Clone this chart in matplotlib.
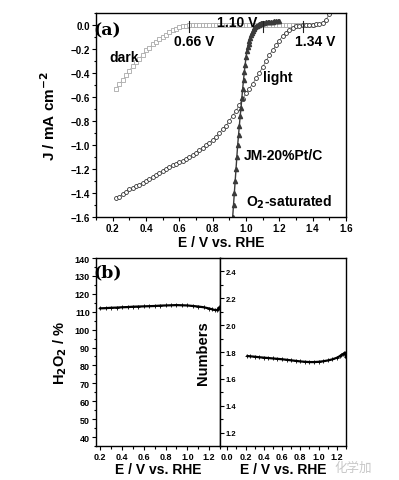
import numpy as np
import matplotlib.pyplot as plt
from matplotlib.ticker import MultipleLocator

plt.rcParams['font.family'] = ['Liberation Sans', 'DejaVu Sans']
plt.rcParams['font.weight'] = 'bold'
plt.rcParams['axes.labelweight'] = 'bold'
plt.rcParams['mathtext.default'] = 'bf'

# ---- (a) LSV curves ----
E_dark = [0.22, 0.24, 0.26, 0.28, 0.30, 0.32, 0.34, 0.36, 0.38, 0.40, 0.42, 0.44,
          0.46, 0.48, 0.50, 0.52, 0.54, 0.56, 0.58, 0.60, 0.62, 0.64, 0.66, 0.68,
          0.70, 0.72, 0.74, 0.76, 0.78, 0.80, 0.82, 0.84, 0.86, 0.88, 0.90, 0.92,
          0.94, 0.96, 0.98, 1.00, 1.02, 1.04, 1.06, 1.08, 1.10, 1.12, 1.14, 1.16,
          1.18, 1.20, 1.22, 1.24, 1.26, 1.28, 1.30, 1.32, 1.34, 1.36, 1.38, 1.40]
J_dark = [-0.53, -0.49, -0.46, -0.42, -0.38, -0.34, -0.31, -0.28, -0.25, -0.21,
          -0.19, -0.16, -0.14, -0.12, -0.10, -0.08, -0.06, -0.045, -0.03, -0.02,
          -0.01, -0.005, 0.0, 0.0, 0.0, 0.0, 0.0, 0.0, 0.0, 0.0, 0.0, 0.0, 0.0,
          0.0, 0.0, 0.0, 0.0, 0.0, 0.0, 0.0, 0.0, 0.0, 0.0, 0.0, 0.0, 0.0, 0.0,
          0.0, 0.0, 0.0, 0.0, 0.0, 0.0, 0.0, 0.0, 0.0, 0.0, 0.0, 0.0, 0.0]

E_light = [0.22, 0.24, 0.26, 0.28, 0.30, 0.32, 0.34, 0.36, 0.38, 0.40, 0.42, 0.44,
           0.46, 0.48, 0.50, 0.52, 0.54, 0.56, 0.58, 0.60, 0.62, 0.64, 0.66, 0.68,
           0.70, 0.72, 0.74, 0.76, 0.78, 0.80, 0.82, 0.84, 0.86, 0.88, 0.90, 0.92,
           0.94, 0.96, 0.98, 1.00, 1.02, 1.04, 1.06, 1.08, 1.10, 1.12, 1.14, 1.16,
           1.18, 1.20, 1.22, 1.24, 1.26, 1.28, 1.30, 1.32, 1.34, 1.36, 1.38, 1.40,
           1.42, 1.44, 1.46, 1.48, 1.50]
J_light = [-1.445, -1.43, -1.41, -1.39, -1.37, -1.36, -1.345, -1.33, -1.315, -1.30,
           -1.285, -1.27, -1.25, -1.235, -1.215, -1.20, -1.185, -1.17, -1.16, -1.145,
           -1.13, -1.115, -1.10, -1.085, -1.065, -1.045, -1.025, -1.00, -0.98, -0.955,
           -0.93, -0.90, -0.87, -0.84, -0.80, -0.755, -0.715, -0.665, -0.615, -0.57,
           -0.53, -0.49, -0.445, -0.40, -0.35, -0.30, -0.25, -0.21, -0.17, -0.13,
           -0.09, -0.065, -0.045, -0.025, -0.012, -0.005, 0.0, 0.0, 0.0, 0.0,
           0.005, 0.01, 0.02, 0.045, 0.09]

E_pt = [0.92, 0.925, 0.93, 0.935, 0.94, 0.945, 0.95, 0.955, 0.96, 0.965, 0.97,
        0.975, 0.98, 0.985, 0.99, 0.995, 1.00, 1.005, 1.01, 1.015, 1.02, 1.025,
        1.03, 1.035, 1.04, 1.045, 1.05, 1.055, 1.06, 1.065, 1.07, 1.075, 1.08,
        1.085, 1.09, 1.095, 1.10, 1.11, 1.12, 1.13, 1.14, 1.15, 1.16, 1.17, 1.18,
        1.19, 1.20]
J_pt = [-1.60, -1.50, -1.40, -1.30, -1.20, -1.10, -1.00, -0.92, -0.84, -0.76,
        -0.69, -0.61, -0.53, -0.46, -0.39, -0.33, -0.27, -0.22, -0.185, -0.155,
        -0.13, -0.105, -0.085, -0.065, -0.05, -0.035, -0.025, -0.017, -0.01,
        -0.005, 0.0, 0.004, 0.008, 0.011, 0.013, 0.015, 0.017, 0.02, 0.022, 0.024,
        0.026, 0.028, 0.029, 0.031, 0.032, 0.034, 0.035]

onset_E = [0.66, 1.10, 1.34]
onset_labels = ['0.66 V', '1.10 V', '1.34 V']

# ---- (b) RRDE results ----
E_h2o2 = [0.20, 0.25, 0.30, 0.35, 0.40, 0.45, 0.50, 0.55, 0.60, 0.65, 0.70, 0.75,
          0.80, 0.85, 0.90, 0.95, 1.00, 1.05, 1.10, 1.15, 1.20, 1.23, 1.25, 1.27,
          1.28, 1.29, 1.30]
h2o2 = [111.9, 112.0, 112.2, 112.3, 112.5, 112.6, 112.8, 112.9, 113.0, 113.1,
        113.2, 113.4, 113.5, 113.6, 113.7, 113.6, 113.5, 113.2, 112.9, 112.5,
        111.8, 111.3, 111.0, 110.9, 111.3, 112.4, 111.5]

E_n = [0.22, 0.25, 0.30, 0.35, 0.40, 0.45, 0.50, 0.55, 0.60, 0.65, 0.70, 0.75,
       0.80, 0.85, 0.90, 0.95, 1.00, 1.05, 1.10, 1.15, 1.20, 1.23, 1.25, 1.27,
       1.28, 1.29, 1.30]
n_e = [1.770, 1.768, 1.765, 1.761, 1.758, 1.755, 1.752, 1.749, 1.746, 1.742,
       1.738, 1.734, 1.730, 1.727, 1.725, 1.725, 1.727, 1.731, 1.737, 1.745,
       1.757, 1.768, 1.778, 1.786, 1.790, 1.794, 1.760]

fig = plt.figure(figsize=(3.99, 4.81), dpi=100)
ax = fig.add_axes([0.2406, 0.5468, 0.6266, 0.4241])

ax.plot(E_dark, J_dark, ls='-', lw=0.4, color='#b0b0b0', marker='s', ms=2.6,
        mfc='white', mec='#a8a8a8', mew=0.6)
ax.plot(E_light, J_light, ls='-', lw=0.4, color='#333333', marker='o', ms=2.8,
        mfc='white', mec='#333333', mew=0.6)
ax.plot(E_pt, J_pt, ls='-', lw=1.0, color='#3a3a3a', marker='^', ms=3.0,
        mfc='#3a3a3a', mec='#3a3a3a')

for e in onset_E:
    ax.plot([e, e], [-0.055, 0.035], color='#222222', lw=0.8)

fs = 10
ax.text(0.688, -0.137, onset_labels[0], ha='center', va='center', fontsize=fs)
ax.text(0.946, 0.027, onset_labels[1], ha='center', va='center', fontsize=fs)
ax.text(1.417, -0.13, onset_labels[2], ha='center', va='center', fontsize=fs)
ax.text(0.268, -0.265, 'dark', ha='center', va='center', fontsize=fs)
ax.text(1.189, -0.43, 'light', ha='center', va='center', fontsize=fs)
ax.text(1.225, -1.085, 'JM-20%Pt/C', ha='center', va='center', fontsize=fs)
ax.text(1.258, -1.47, 'O$_2$-saturated', ha='center', va='center', fontsize=fs)
ax.text(0.17, -0.04, '(a)', ha='center', va='center', fontsize=12.5,
        family='DejaVu Serif', fontweight='bold')

ax.set_xlim(0.1, 1.6)
ax.set_ylim(-1.6, 0.1)
ax.xaxis.set_major_locator(MultipleLocator(0.2))
ax.xaxis.set_minor_locator(MultipleLocator(0.1))
ax.yaxis.set_major_locator(MultipleLocator(0.2))
ax.yaxis.set_minor_locator(MultipleLocator(0.1))
ax.tick_params(which='both', direction='out', labelsize=7, pad=1.5, width=0.8)
ax.tick_params(which='major', length=3)
ax.tick_params(which='minor', length=1.8)
ax.set_xlabel('E / V vs. RHE', fontsize=10)
ax.set_ylabel('J / mA cm$^{-2}$', fontsize=11)
ax.yaxis.set_label_coords(-0.15, 0.5)
ax.xaxis.set_label_coords(0.5, -0.09)

# ---- bottom panels ----
bx1 = fig.add_axes([0.2406, 0.0707, 0.3108, 0.3908])
bx2 = fig.add_axes([0.5514, 0.0707, 0.3156, 0.3908])

bx1.plot(E_h2o2, h2o2, color='black', lw=1.6, marker='+', ms=2.5, mew=0.6)
bx2.plot(E_n, n_e, color='black', lw=1.6, marker='+', ms=2.5, mew=0.6)

bx1.set_xlim(0.16, 1.3)
bx1.set_ylim(35, 140)
bx1.xaxis.set_major_locator(MultipleLocator(0.2))
bx1.xaxis.set_minor_locator(MultipleLocator(0.1))
bx1.yaxis.set_major_locator(MultipleLocator(10))
bx1.yaxis.set_minor_locator(MultipleLocator(5))
bx1.tick_params(which='both', direction='out', labelsize=6.5, pad=1.5, width=0.8)
bx1.tick_params(which='major', length=3)
bx1.tick_params(which='minor', length=1.8)
bx1.set_xlabel('E / V vs. RHE', fontsize=10)
bx1.xaxis.set_label_coords(0.5, -0.085)
bx1.set_ylabel('H$_2$O$_2$ / %', fontsize=10.5)
bx1.yaxis.set_label_coords(-0.22, 0.5)
bx1.text(0.27, 132, '(b)', ha='center', va='center', fontsize=12.5,
         family='DejaVu Serif', fontweight='bold')

bx2.set_xlim(-0.08, 1.3)
bx2.set_ylim(1.1, 2.5)
bx2.xaxis.set_major_locator(MultipleLocator(0.2))
bx2.xaxis.set_minor_locator(MultipleLocator(0.1))
bx2.yaxis.set_major_locator(MultipleLocator(0.2))
bx2.yaxis.set_minor_locator(MultipleLocator(0.1))
bx2.tick_params(axis='x', which='both', direction='out', labelsize=6.5, pad=1.5, width=0.8)
bx2.tick_params(axis='x', which='major', length=3)
bx2.tick_params(axis='x', which='minor', length=1.8)
bx2.tick_params(axis='y', which='both', direction='in', labelsize=5.5, pad=-4, width=0.8)
bx2.tick_params(axis='y', which='major', length=3)
bx2.tick_params(axis='y', which='minor', length=1.8)
for lab in bx2.get_yticklabels():
    lab.set_horizontalalignment('left')
bx2.set_xlabel('E / V vs. RHE', fontsize=10)
bx2.xaxis.set_label_coords(0.5, -0.085)
bx2.set_ylabel('Numbers', fontsize=10.5)
bx2.yaxis.set_label_coords(-0.08, 0.5)

for a in (ax, bx1, bx2):
    for s in a.spines.values():
        s.set_linewidth(1.0)

fig.text(0.885, 0.027, '化学加', color='#c8c8c8', fontsize=9,
         family=['Noto Sans CJK SC', 'DejaVu Sans'], fontweight='normal',
         ha='center', va='center')

fig.savefig('out.png', dpi=100)
